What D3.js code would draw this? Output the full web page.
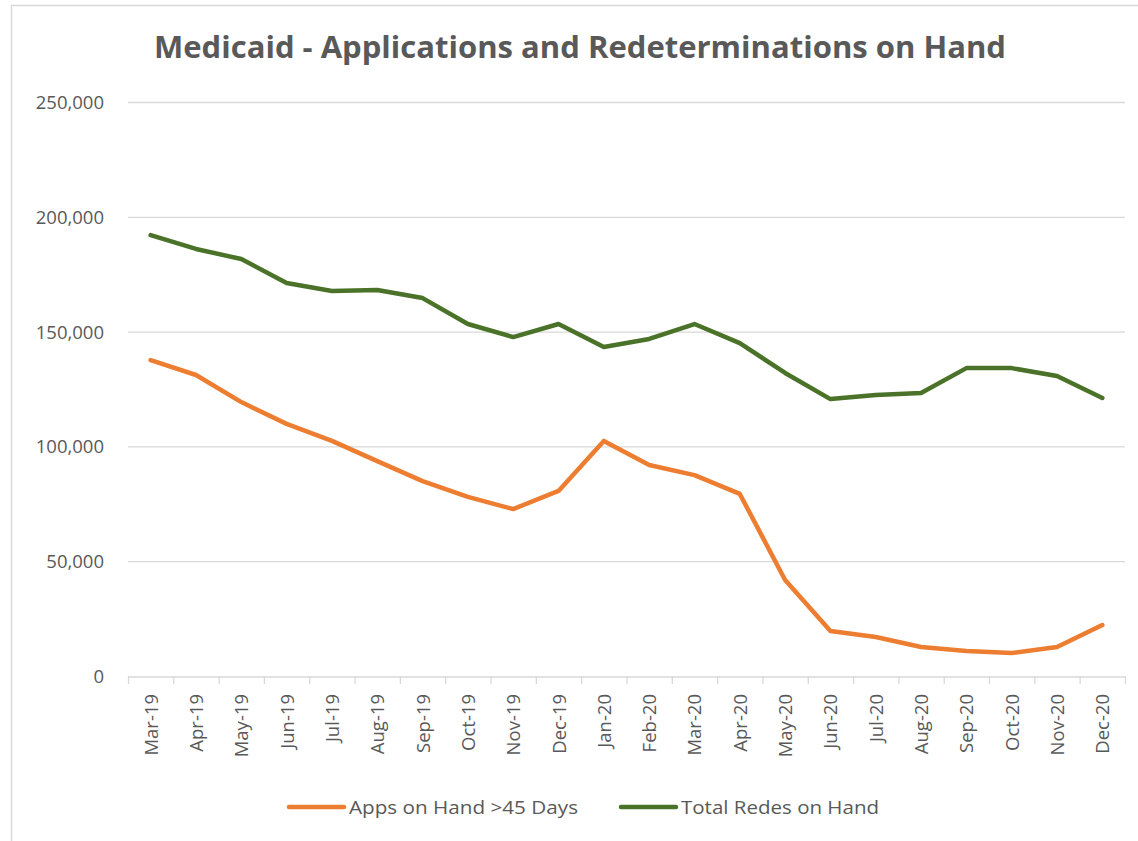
<!DOCTYPE html>
<html><head><meta charset="utf-8">
<script src="https://cdn.jsdelivr.net/npm/d3@7"></script>
<style>body{margin:0;background:#fff;}svg{display:block;}</style>
</head><body>
<svg id="c" width="1138" height="841"></svg>
<script>
const months = ["Mar-19","Apr-19","May-19","Jun-19","Jul-19","Aug-19","Sep-19","Oct-19","Nov-19","Dec-19","Jan-20","Feb-20","Mar-20","Apr-20","May-20","Jun-20","Jul-20","Aug-20","Sep-20","Oct-20","Nov-20","Dec-20"];
const appsOnHand = [137600,131100,119300,109800,102400,93600,84900,78000,72700,80600,102400,91900,87500,79300,41800,19600,17000,12600,10900,10000,12600,22200];
const redesOnHand = [192000,186000,181600,171200,167700,168100,164600,153300,147600,153300,143300,146800,153300,145000,132000,120600,122400,123300,134100,134100,130700,121100];
const yTicks = [0,50000,100000,150000,200000,250000];
const seriesNames = ["Apps on Hand >45 Days","Total Redes on Hand"];
const seriesColors = ["#ED7D31","#4A7329"];

const svg = d3.select("#c");
const font = "'Open Sans', 'Liberation Sans', sans-serif";
const L = 128, R = 1125, T = 102, B = 676;
const labelSize = 18.5;

// outer border
svg.append("path").attr("d","M11.5,841 V5.5 H1138").attr("fill","none").attr("stroke","#d9d9d9").attr("stroke-width",1.5);

const x = d3.scaleBand().domain(months).range([L,R]);
const y = d3.scaleLinear().domain([0,250000]).range([B,T]);

// gridlines
svg.append("g").selectAll("line").data(yTicks.filter(d=>d>0)).join("line")
  .attr("x1",L).attr("x2",R).attr("y1",d=>y(d)+0.5).attr("y2",d=>y(d)+0.5)
  .attr("stroke","#d9d9d9").attr("stroke-width",1.3);

// y labels
svg.append("g").selectAll("text").data(yTicks).join("text")
  .attr("x",104).attr("y",d=>y(d)+7).attr("text-anchor","end")
  .attr("font-family",font).attr("font-size",labelSize).attr("fill","#595959")
  .text(d=>d3.format(",")(d));

// x axis
const xAxis = d3.axisBottom(x).tickSize(0).tickFormat("");
const gx = svg.append("g").attr("transform",`translate(0,${B+0.5})`).call(xAxis);
gx.select(".domain").attr("stroke","#d9d9d9").attr("stroke-width",1.3);
const bounds = months.map(m=>x(m)).concat([R]);
svg.append("g").selectAll("line").data(bounds).join("line")
  .attr("x1",d=>d+0.5).attr("x2",d=>d+0.5).attr("y1",B).attr("y2",B+8)
  .attr("stroke","#d9d9d9").attr("stroke-width",1.3);
svg.append("g").selectAll("text").data(months).join("text")
  .attr("transform",d=>`translate(${x(d)+x.bandwidth()/2+7},694) rotate(-90)`)
  .attr("text-anchor","end")
  .attr("font-family",font).attr("font-size",labelSize).attr("fill","#595959")
  .text(d=>d);

// lines
const line = d3.line().x((d,i)=>x(months[i])+x.bandwidth()/2).y(d=>y(d));
[appsOnHand, redesOnHand].forEach((s,k)=>{
  svg.append("path").datum(s).attr("d",line).attr("fill","none")
    .attr("stroke",seriesColors[k]).attr("stroke-width",4.5)
    .attr("stroke-linejoin","round").attr("stroke-linecap","round");
});

// title
svg.append("text").attr("x",580).attr("y",58).attr("text-anchor","middle")
  .attr("font-family",font).attr("font-weight","bold").attr("font-size",31)
  .attr("fill","#595959").attr("textLength",852).attr("lengthAdjust","spacingAndGlyphs")
  .text("Medicaid - Applications and Redeterminations on Hand");

// legend
const legX = [289, 621];
const legTextW = [229, 198];
seriesNames.forEach((n,k)=>{
  svg.append("line").attr("x1",legX[k]).attr("x2",legX[k]+55).attr("y1",807).attr("y2",807)
    .attr("stroke",seriesColors[k]).attr("stroke-width",4.5).attr("stroke-linecap","round");
  svg.append("text").attr("x",legX[k]+60).attr("y",814)
    .attr("font-family",font).attr("font-size",labelSize).attr("fill","#595959")
    .attr("textLength",legTextW[k]).attr("lengthAdjust","spacingAndGlyphs")
    .text(n);
});
</script>
</body></html>
